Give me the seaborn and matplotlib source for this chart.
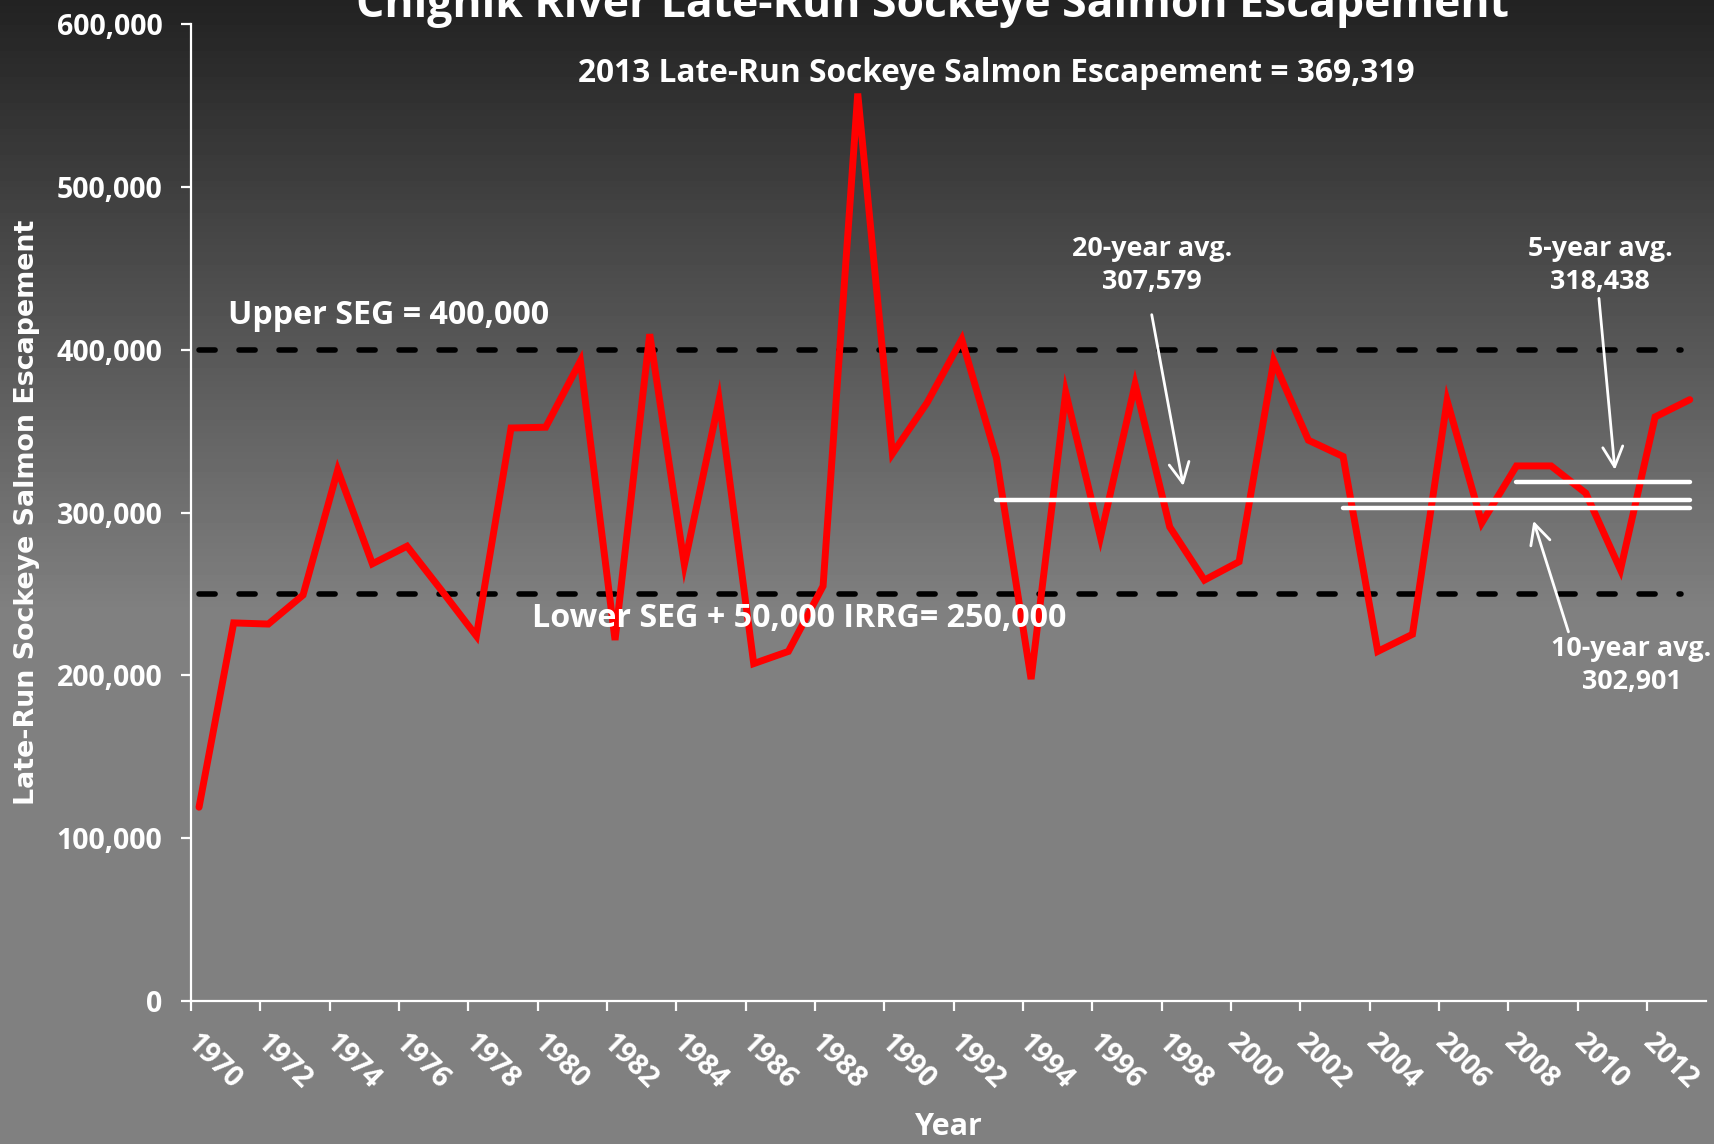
"""
Chignik River late-run sockeye salmon escapement, 1970-2013.
"""

import matplotlib
matplotlib.use("Agg")
import matplotlib.pyplot as plt
import seaborn as sns
import pandas as pd
import numpy as np


years = list(range(1970, 2014))
escapement = [
    119000, 232200, 231500, 249300, 326100, 268500, 279300, 252000, 224200, 351900,
    352400, 393000, 221700, 409500, 268000, 369200, 207200, 214700, 254800, 557300,
    336100, 367400, 406300, 333600, 197700, 373700, 284800, 378700, 291100, 258500,
    269800, 393000, 344400, 334400, 214700, 225200, 368700, 293600, 328600, 328600,
    311900, 264800, 358700, 369319,
]

goal_labels = ["Upper SEG = 400,000", "Lower SEG + 50,000 IRRG= 250,000"]
goal_values = [400000, 250000]

avg_names = ["20-year avg.", "10-year avg.", "5-year avg."]
avg_values = [307579, 302901, 318438]
avg_start = [1993, 2003, 2008]
avg_end = 2013

tick_years = list(range(1970, 2013, 2))

df = pd.DataFrame({"Year": years, "Escapement": escapement})

sns.set_theme(style="white")
plt.rcParams["font.family"] = ["Open Sans", "DejaVu Sans"]
plt.rcParams["font.weight"] = "bold"

fig = plt.figure(figsize=(17.15, 11.44), dpi=100)

# gradient backdrop: dark at top, flat grey from ~55% down
bg = fig.add_axes([0, 0, 1, 1], zorder=-10)
rows = np.arange(1144)
shade = 34 + (128 - 34) * np.clip(rows / 610, 0, 1)
bg.imshow(shade[:, None], aspect="auto", cmap="gray", vmin=0, vmax=255,
          extent=[0, 1, 0, 1])
bg.axis("off")

ax = fig.add_axes([0.1114, 0.125, 0.8834, 0.854])
ax.set_facecolor("none")

# goal lines
for val in goal_values:
    ax.hlines(val, 1970, 2012.75, colors="black", lw=4,
              linestyles=(0, (2.9, 4.3)), capstyle="round", zorder=2)

sns.lineplot(data=df, x="Year", y="Escapement", color="#ff0000", lw=5,
             ax=ax, zorder=3)
ax.lines[-1].set_solid_joinstyle("miter")

for start, val in zip(avg_start, avg_values):
    ax.plot([start, avg_end], [val, val], color="white", lw=3.2,
            solid_capstyle="round", zorder=4)

ax.set_xlim(1969.77, 2013.47)
ax.set_ylim(0, 600000)
ax.set_yticks(np.arange(0, 600001, 100000))
ax.yaxis.set_major_formatter(matplotlib.ticker.StrMethodFormatter("{x:,.0f}"))
ax.set_xticks(np.array(tick_years) - 0.23)
ax.set_xticklabels([str(y) for y in tick_years])

for side in ["top", "right"]:
    ax.spines[side].set_visible(False)
for side in ["left", "bottom"]:
    ax.spines[side].set_color("white")
    ax.spines[side].set_linewidth(1.6)

ax.tick_params(axis="y", colors="white", labelsize=20.5, length=7.5, width=1.6,
               pad=13, left=True)
ax.tick_params(axis="x", colors="white", labelsize=20.5, length=7.5, width=1.6,
               pad=20, bottom=True)
plt.setp(ax.get_xticklabels(), rotation=-45, ha="left", va="center",
         rotation_mode="anchor")

ax.set_xlabel("Year", color="white", fontsize=22, fontweight="bold")
ax.xaxis.set_label_coords(0.5, -0.129)
ax.xaxis.label.set_va("center")
ax.set_ylabel("Late-Run Sockeye Salmon Escapement", color="white", fontsize=19.4,
              fontweight="bold", family="DejaVu Sans")
ax.yaxis.set_label_coords(-0.108, 0.5)
ax.yaxis.label.set_va("center")

fig.text(0.5435, 1 - 17 / 1144, "Chignik River Late-Run Sockeye Salmon Escapement",
         ha="center", va="baseline", color="white", fontsize=32, fontweight="bold")

ax.text(1993, 569900, "2013 Late-Run Sockeye Salmon Escapement = 369,319",
        ha="center", va="center", color="white", fontsize=22.8, fontweight="bold")
ax.text(1970.84, 421300, goal_labels[0], ha="left", va="center",
        color="white", fontsize=23.2, fontweight="bold")
ax.text(1979.6, 235200, goal_labels[1], ha="left", va="center",
        color="white", fontsize=23.2, fontweight="bold")

# average callouts
ax.text(1997.48, 451700, f"{avg_names[0]}\n{avg_values[0]:,}", ha="center",
        va="center", color="white", fontsize=19.4, fontweight="bold", linespacing=1.35)
ax.text(2011.32, 206000, f"{avg_names[1]}\n{avg_values[1]:,}", ha="center",
        va="center", color="white", fontsize=19.4, fontweight="bold", linespacing=1.35)
ax.text(2010.41, 451700, f"{avg_names[2]}\n{avg_values[2]:,}", ha="center",
        va="center", color="white", fontsize=19.4, fontweight="bold", linespacing=1.35)

arrow = dict(arrowstyle="->,head_length=0.4,head_width=0.2", color="white",
             lw=2, mutation_scale=36, shrinkA=0, shrinkB=0)
ax.annotate("", xy=(1998.39, 316300), xytext=(1997.48, 421500), arrowprops=arrow)
ax.annotate("", xy=(2008.49, 294900), xytext=(2009.5, 226700), arrowprops=arrow)
ax.annotate("", xy=(2010.84, 326200), xytext=(2010.38, 431500), arrowprops=arrow)

fig.savefig("out.png", dpi=100)
